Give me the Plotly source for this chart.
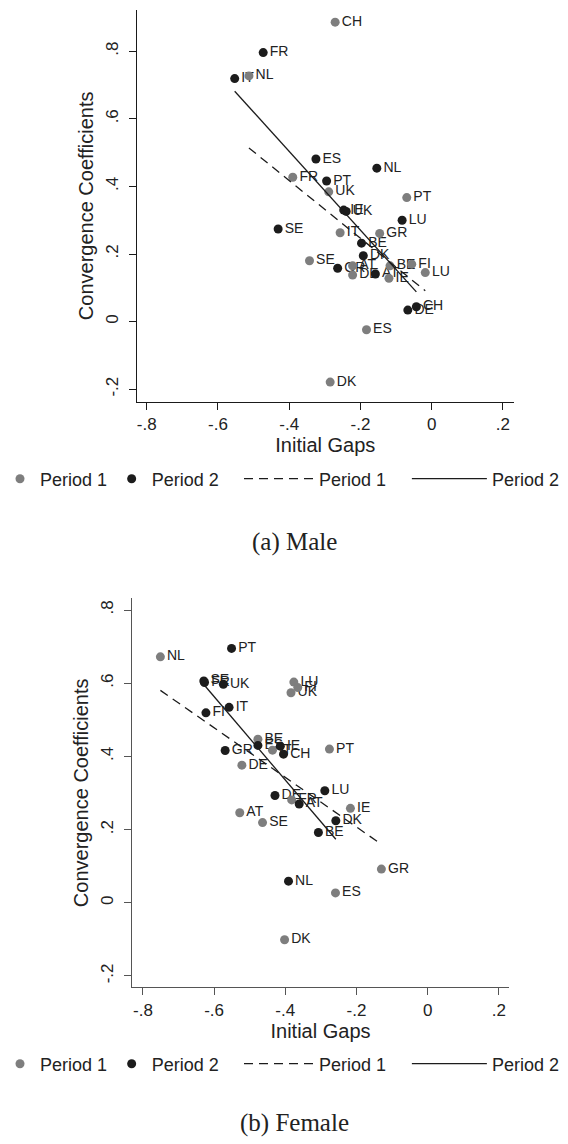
import numpy as np
import plotly.graph_objects as go

# ---------------- data ----------------
# (a) Male
male_p1_cty = ["CH", "NL", "FR", "UK", "PT", "IT", "GR", "SE", "AT", "DE", "BE", "FI", "IE", "LU", "ES", "DK"]
male_p1_gap = [-0.271, -0.513, -0.390, -0.289, -0.070, -0.257, -0.146, -0.343, -0.222, -0.222, -0.117, -0.056, -0.120, -0.018, -0.183, -0.285]
male_p1_coef = [0.886, 0.727, 0.427, 0.384, 0.367, 0.263, 0.261, 0.180, 0.165, 0.138, 0.165, 0.170, 0.128, 0.145, -0.024, -0.179]

male_p2_cty = ["FR", "IT", "ES", "NL", "PT", "IE", "UK", "LU", "SE", "BE", "DK", "GR", "AT", "CH", "DE"]
male_p2_gap = [-0.473, -0.553, -0.325, -0.154, -0.295, -0.247, -0.240, -0.083, -0.431, -0.197, -0.192, -0.264, -0.158, -0.043, -0.067]
male_p2_coef = [0.796, 0.719, 0.481, 0.454, 0.416, 0.330, 0.326, 0.300, 0.274, 0.232, 0.195, 0.158, 0.141, 0.044, 0.034]

# (b) Female
female_p1_cty = ["NL", "LU", "FI", "UK", "BE", "IT", "PT", "DE", "FR", "IE", "AT", "SE", "GR", "ES", "DK"]
female_p1_gap = [-0.751, -0.376, -0.365, -0.384, -0.477, -0.436, -0.276, -0.522, -0.382, -0.217, -0.528, -0.464, -0.130, -0.259, -0.402]
female_p1_coef = [0.672, 0.603, 0.588, 0.574, 0.447, 0.417, 0.420, 0.376, 0.281, 0.258, 0.246, 0.219, 0.092, 0.027, -0.101]

female_p2_cty = ["PT", "SE", "FR", "UK", "IT", "FI", "GR", "ES", "IE", "CH", "LU", "DE", "AT", "DK", "BE", "NL"]
female_p2_gap = [-0.551, -0.629, -0.627, -0.574, -0.558, -0.623, -0.569, -0.477, -0.414, -0.405, -0.289, -0.429, -0.361, -0.258, -0.307, -0.391]
female_p2_coef = [0.695, 0.606, 0.602, 0.597, 0.534, 0.519, 0.416, 0.430, 0.428, 0.406, 0.306, 0.293, 0.270, 0.224, 0.192, 0.059]

x_tick_vals = [-0.8, -0.6, -0.4, -0.2, 0.0, 0.2]
x_tick_text = ["-.8", "-.6", "-.4", "-.2", "0", ".2"]
y_tick_vals = [-0.2, 0.0, 0.2, 0.4, 0.6, 0.8]
y_tick_text = ["-.2", "0", ".2", ".4", ".6", ".8"]

# ---------------- styling ----------------
W, H = 568, 1144
GRAY = "#7e7e7e"
BLACK = "#1c1c1c"
TXT = "#222222"
SANS = "Liberation Sans, Arial, sans-serif"
SERIF = "Liberation Serif, Times New Roman, serif"

fig = go.Figure()


def fit_line(xs, ys):
    xs = np.asarray(xs)
    ys = np.asarray(ys)
    b, a = np.polyfit(xs, ys, 1)
    xx = np.array([xs.min(), xs.max()])
    return xx, a + b * xx


def add_panel(xa, ya, p1c, p1x, p1y, p2c, p2x, p2y, legs):
    # point labels (invisible markers keep the offset equal to the dots)
    for c, x, y in ((p1c, p1x, p1y), (p2c, p2x, p2y)):
        fig.add_trace(go.Scatter(
            x=x, y=y, text=c, mode="markers+text", textposition="middle right",
            marker=dict(size=9, opacity=0), textfont=dict(family=SANS, size=14, color=TXT),
            showlegend=False, hoverinfo="skip", xaxis=xa, yaxis=ya, cliponaxis=False))
    fig.add_trace(go.Scatter(
        x=p1x, y=p1y, mode="markers", name="Period 1",
        marker=dict(size=9, color=GRAY, line=dict(width=0)),
        xaxis=xa, yaxis=ya, legend=legs[0], cliponaxis=False))
    fig.add_trace(go.Scatter(
        x=p2x, y=p2y, mode="markers", name="Period 2",
        marker=dict(size=9, color=BLACK, line=dict(width=0)),
        xaxis=xa, yaxis=ya, legend=legs[1], cliponaxis=False))
    fx, fy = fit_line(p1x, p1y)
    fig.add_trace(go.Scatter(
        x=fx, y=fy, mode="lines", name="Period 1",
        line=dict(color=BLACK, width=1.3, dash="9px,6px"),
        xaxis=xa, yaxis=ya, legend=legs[2]))
    fx, fy = fit_line(p2x, p2y)
    fig.add_trace(go.Scatter(
        x=fx, y=fy, mode="lines", name="Period 2",
        line=dict(color=BLACK, width=1.3),
        xaxis=xa, yaxis=ya, legend=legs[3]))


add_panel("x", "y", male_p1_cty, male_p1_gap, male_p1_coef,
          male_p2_cty, male_p2_gap, male_p2_coef,
          ["legend", "legend2", "legend3", "legend4"])
add_panel("x2", "y2", female_p1_cty, female_p1_gap, female_p1_coef,
          female_p2_cty, female_p2_gap, female_p2_coef,
          ["legend5", "legend6", "legend7", "legend8"])


def xaxis_cfg(domain, rng, color, anchor):
    return dict(domain=domain, range=rng, anchor=anchor, showgrid=False, zeroline=False,
                showline=True, linecolor=color, linewidth=1.3, ticks="outside",
                ticklen=7, tickwidth=1.2, tickcolor=color, tickvals=x_tick_vals,
                ticktext=x_tick_text, tickfont=dict(family=SANS, size=17, color=TXT),
                title=dict(text="Initial Gaps", font=dict(family=SANS, size=20, color=TXT), standoff=1),
                automargin=False, fixedrange=True)


def yaxis_cfg(domain, rng, color, anchor):
    return dict(domain=domain, range=rng, anchor=anchor, showgrid=False, zeroline=False,
                showline=True, linecolor=color, linewidth=1.3, ticks="outside",
                ticklen=7, tickwidth=1.2, tickcolor=color, tickvals=y_tick_vals,
                ticktext=y_tick_text, tickangle=-90, ticklabelstandoff=4,
                tickfont=dict(family=SANS, size=17, color=TXT),
                title=dict(text="Convergence Coefficients", font=dict(family=SANS, size=20, color=TXT), standoff=3),
                automargin=False, fixedrange=True)


def px_x(p):
    return p / W


def px_y(p):
    return 1 - p / H


fig.update_layout(
    width=W, height=H, margin=dict(l=0, r=0, t=0, b=0),
    paper_bgcolor="white", plot_bgcolor="white", showlegend=True,
    xaxis=xaxis_cfg([px_x(121), px_x(512)], [-0.828, 0.231], "#1a1a1a", "y"),
    yaxis=yaxis_cfg([px_y(401.7), px_y(10)], [-0.237, 0.922], "#1a1a1a", "x"),
    xaxis2=xaxis_cfg([px_x(116), px_x(507)], [-0.831, 0.229], "#555555", "y2"),
    yaxis2=yaxis_cfg([px_y(987.3), px_y(598.3)], [-0.231, 0.832], "#555555", "x2"),
)

leg_font = dict(family=SANS, size=18, color=TXT)


def legend_cfg(xpix, ypix, iw):
    return dict(orientation="h", x=px_x(xpix), xanchor="left", y=px_y(ypix), yanchor="middle",
                font=leg_font, itemwidth=iw, bgcolor="rgba(0,0,0,0)", borderwidth=0,
                itemclick=False, itemdoubleclick=False)


top_leg_y = 479
bot_leg_y = 1064
fig.update_layout(
    legend=legend_cfg(-21, top_leg_y, 30),
    legend2=legend_cfg(95, top_leg_y, 30),
    legend3=legend_cfg(227, top_leg_y, 70),
    legend4=legend_cfg(401, top_leg_y, 75),
    legend5=legend_cfg(-21, bot_leg_y, 30),
    legend6=legend_cfg(95, bot_leg_y, 30),
    legend7=legend_cfg(227, bot_leg_y, 70),
    legend8=legend_cfg(401, bot_leg_y, 75),
)

fig.add_annotation(text="(a) Male", x=0.5, y=px_y(542), xref="paper", yref="paper",
                   showarrow=False, font=dict(family=SERIF, size=25, color=TXT),
                   xanchor="center", yanchor="middle")
fig.add_annotation(text="(b) Female", x=0.5, y=px_y(1123), xref="paper", yref="paper",
                   showarrow=False, font=dict(family=SERIF, size=25, color=TXT),
                   xanchor="center", yanchor="middle")

fig.write_html("out.html", config={"displayModeBar": False},
               post_script="document.body.style.margin='0';document.documentElement.style.margin='0';")
